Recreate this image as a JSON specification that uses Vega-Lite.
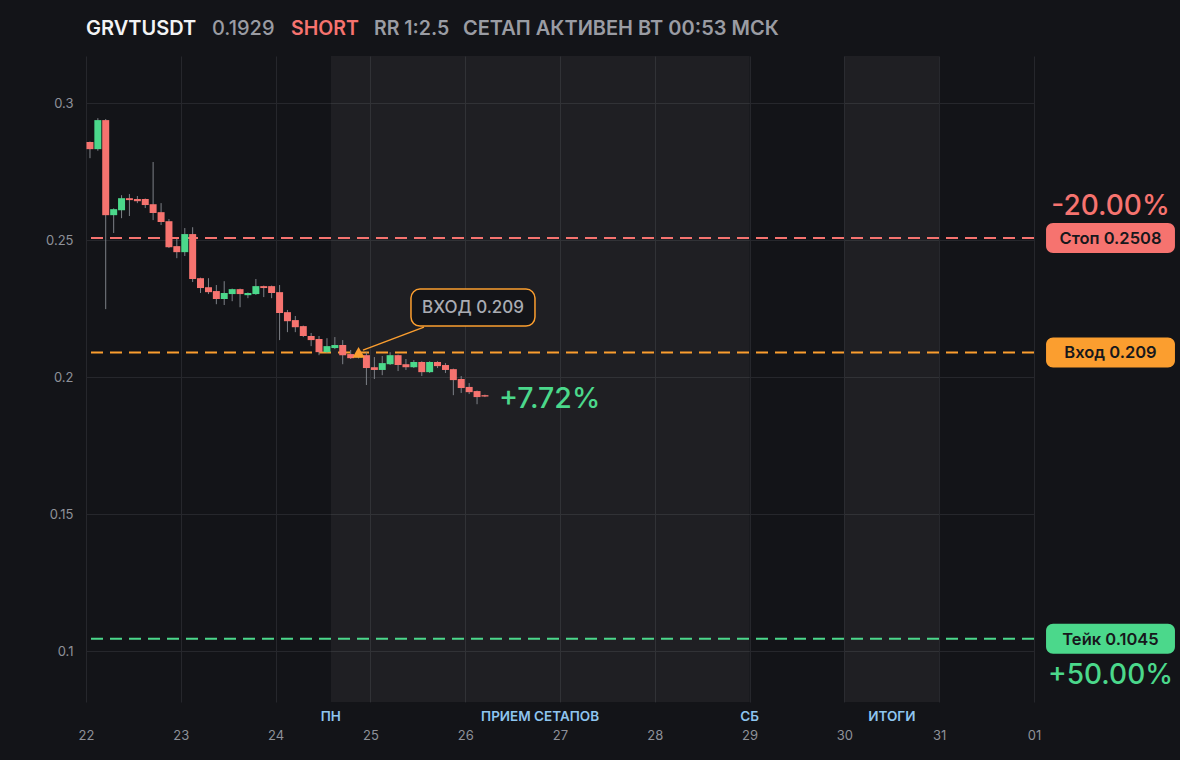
{
  "$schema": "https://vega.github.io/schema/vega-lite/v6.json",
  "width": 948,
  "height": 646,
  "autosize": {"type": "none"},
  "padding": {"left": 86, "top": 56, "right": 146, "bottom": 58},
  "background": "#131418",
  "config": {
    "view": {"stroke": null},
    "font": "Inter",
    "text": {"font": "Inter"}
  },
  "datasets": {
    "candles": [
      {"t": 22.042, "o": 0.2858, "c": 0.2832, "h": 0.2860, "l": 0.2799},
      {"t": 22.125, "o": 0.2832, "c": 0.2938, "h": 0.2945, "l": 0.2826},
      {"t": 22.208, "o": 0.2938, "c": 0.2591, "h": 0.2942, "l": 0.2248},
      {"t": 22.292, "o": 0.2591, "c": 0.2613, "h": 0.2616, "l": 0.2526},
      {"t": 22.375, "o": 0.2609, "c": 0.2653, "h": 0.2664, "l": 0.2580},
      {"t": 22.458, "o": 0.2653, "c": 0.2646, "h": 0.2668, "l": 0.2588},
      {"t": 22.542, "o": 0.2650, "c": 0.2642, "h": 0.2661, "l": 0.2635},
      {"t": 22.625, "o": 0.2650, "c": 0.2628, "h": 0.2652, "l": 0.2617},
      {"t": 22.708, "o": 0.2631, "c": 0.2599, "h": 0.2785, "l": 0.2573},
      {"t": 22.792, "o": 0.2602, "c": 0.2566, "h": 0.2635, "l": 0.2555},
      {"t": 22.875, "o": 0.2569, "c": 0.2474, "h": 0.2577, "l": 0.2471},
      {"t": 22.958, "o": 0.2478, "c": 0.2456, "h": 0.2504, "l": 0.2434},
      {"t": 23.042, "o": 0.2456, "c": 0.2522, "h": 0.2544, "l": 0.2442},
      {"t": 23.125, "o": 0.2522, "c": 0.2358, "h": 0.2547, "l": 0.2347},
      {"t": 23.208, "o": 0.2361, "c": 0.2325, "h": 0.2363, "l": 0.2307},
      {"t": 23.292, "o": 0.2328, "c": 0.2310, "h": 0.2361, "l": 0.2303},
      {"t": 23.375, "o": 0.2314, "c": 0.2285, "h": 0.2336, "l": 0.2266},
      {"t": 23.458, "o": 0.2285, "c": 0.2307, "h": 0.2350, "l": 0.2263},
      {"t": 23.542, "o": 0.2303, "c": 0.2321, "h": 0.2323, "l": 0.2277},
      {"t": 23.625, "o": 0.2321, "c": 0.2303, "h": 0.2323, "l": 0.2255},
      {"t": 23.708, "o": 0.2299, "c": 0.2307, "h": 0.2309, "l": 0.2288},
      {"t": 23.792, "o": 0.2303, "c": 0.2332, "h": 0.2358, "l": 0.2300},
      {"t": 23.875, "o": 0.2332, "c": 0.2325, "h": 0.2334, "l": 0.2292},
      {"t": 23.958, "o": 0.2332, "c": 0.2307, "h": 0.2334, "l": 0.2288},
      {"t": 24.042, "o": 0.2310, "c": 0.2234, "h": 0.2336, "l": 0.2135},
      {"t": 24.125, "o": 0.2237, "c": 0.2204, "h": 0.2245, "l": 0.2164},
      {"t": 24.208, "o": 0.2208, "c": 0.2182, "h": 0.2223, "l": 0.2164},
      {"t": 24.292, "o": 0.2186, "c": 0.2150, "h": 0.2188, "l": 0.2146},
      {"t": 24.375, "o": 0.2150, "c": 0.2135, "h": 0.2161, "l": 0.2113},
      {"t": 24.458, "o": 0.2139, "c": 0.2091, "h": 0.2150, "l": 0.2080},
      {"t": 24.542, "o": 0.2091, "c": 0.2113, "h": 0.2142, "l": 0.2089},
      {"t": 24.625, "o": 0.2106, "c": 0.2117, "h": 0.2146, "l": 0.2102},
      {"t": 24.708, "o": 0.2117, "c": 0.2080, "h": 0.2135, "l": 0.2047},
      {"t": 24.792, "o": 0.2084, "c": 0.2069, "h": 0.2099, "l": 0.2066},
      {"t": 24.875, "o": 0.2072, "c": 0.2080, "h": 0.2085, "l": 0.2068},
      {"t": 24.958, "o": 0.2080, "c": 0.2033, "h": 0.2090, "l": 0.1971},
      {"t": 25.042, "o": 0.2036, "c": 0.2026, "h": 0.2073, "l": 0.1993},
      {"t": 25.125, "o": 0.2026, "c": 0.2051, "h": 0.2077, "l": 0.2007},
      {"t": 25.208, "o": 0.2047, "c": 0.2080, "h": 0.2091, "l": 0.2044},
      {"t": 25.292, "o": 0.2080, "c": 0.2044, "h": 0.2082, "l": 0.2022},
      {"t": 25.375, "o": 0.2047, "c": 0.2036, "h": 0.2066, "l": 0.2026},
      {"t": 25.458, "o": 0.2036, "c": 0.2055, "h": 0.2062, "l": 0.2033},
      {"t": 25.542, "o": 0.2055, "c": 0.2018, "h": 0.2058, "l": 0.2004},
      {"t": 25.625, "o": 0.2018, "c": 0.2055, "h": 0.2058, "l": 0.2015},
      {"t": 25.708, "o": 0.2055, "c": 0.2040, "h": 0.2058, "l": 0.2033},
      {"t": 25.792, "o": 0.2044, "c": 0.2026, "h": 0.2051, "l": 0.2015},
      {"t": 25.875, "o": 0.2029, "c": 0.1989, "h": 0.2031, "l": 0.1934},
      {"t": 25.958, "o": 0.1993, "c": 0.1960, "h": 0.2004, "l": 0.1942},
      {"t": 26.042, "o": 0.1964, "c": 0.1945, "h": 0.1978, "l": 0.1938},
      {"t": 26.125, "o": 0.1949, "c": 0.1927, "h": 0.1951, "l": 0.1901},
      {"t": 26.208, "o": 0.1934, "c": 0.1929, "h": 0.1936, "l": 0.1927}
    ],
    "sessions": [
      {"start": 24.583, "end": 29.0},
      {"start": 30.0, "end": 31.0}
    ],
    "sessionLabels": [
      {"t": 24.583, "label": "ПН"},
      {"t": 26.79, "label": "ПРИЕМ СЕТАПОВ"},
      {"t": 29.0, "label": "СБ"},
      {"t": 30.5, "label": "ИТОГИ"}
    ],
    "levels": [
      {"kind": "stop", "price": 0.2508, "label": "Стоп 0.2508"},
      {"kind": "entry", "price": 0.209, "label": "Вход 0.209"},
      {"kind": "take", "price": 0.1045, "label": "Тейк 0.1045"}
    ],
    "one": [{}]
  },
  "layer": [
    {
      "data": {"name": "sessions"},
      "mark": {"type": "rect", "color": "#ffffff", "opacity": 0.05},
      "encoding": {
        "x": {
          "field": "start", "type": "quantitative",
          "scale": {"domain": [22, 32], "nice": false, "zero": false, "padding": 0},
          "axis": {
            "values": [22, 23, 24, 25, 26, 27, 28, 29, 30, 31, 32],
            "labelExpr": "datum.value == 32 ? '01' : '' + datum.value",
            "title": null, "domain": false, "ticks": false,
            "labelFlush": false, "labelOverlap": false,
            "labelPadding": 27, "labelFontSize": 13, "labelColor": "#8e9199",
            "labelFont": "Inter",
            "grid": true, "gridColor": "#26272c", "gridWidth": 1
          }
        },
        "x2": {"field": "end"}
      }
    },
    {
      "data": {"name": "levels"},
      "mark": {"type": "rule", "strokeWidth": 2, "strokeDash": [12, 7]},
      "encoding": {
        "y": {
          "field": "price", "type": "quantitative",
          "scale": {"domain": [0.0814, 0.3172], "nice": false, "zero": false, "padding": 0},
          "axis": {
            "values": [0.1, 0.15, 0.2, 0.25, 0.3],
            "format": "~g",
            "title": null, "domain": false, "ticks": false,
            "labelPadding": 13, "labelFontSize": 13, "labelColor": "#8e9199",
            "labelFont": "Inter",
            "grid": true, "gridColor": "#26272c", "gridWidth": 1
          }
        },
        "color": {
          "field": "kind", "type": "nominal",
          "scale": {"domain": ["stop", "entry", "take"], "range": ["#f6736f", "#fb9e2f", "#4bd88b"]},
          "legend": null
        }
      }
    },
    {
      "data": {"name": "candles"},
      "mark": {"type": "rule", "color": "#7d8087", "strokeWidth": 1},
      "encoding": {
        "x": {"field": "t", "type": "quantitative"},
        "y": {"field": "l", "type": "quantitative"},
        "y2": {"field": "h"}
      }
    },
    {
      "data": {"name": "candles"},
      "mark": {"type": "bar", "size": 7, "orient": "vertical"},
      "encoding": {
        "x": {"field": "t", "type": "quantitative"},
        "y": {"field": "o", "type": "quantitative"},
        "y2": {"field": "c"},
        "color": {
          "condition": {"test": "datum.c >= datum.o", "value": "#4bd88b"},
          "value": "#f6736f"
        }
      }
    },
    {
      "data": {"name": "one"},
      "mark": {"type": "rule", "color": "#fb9e2f", "strokeWidth": 1.5},
      "encoding": {
        "x": {"datum": 24.922},
        "y": {"datum": 0.20985},
        "x2": {"datum": 25.565},
        "y2": {"datum": 0.21825}
      }
    },
    {
      "data": {"name": "one"},
      "mark": {"type": "point", "shape": "triangle-up", "filled": true, "size": 150, "color": "#fb9e2f", "opacity": 1},
      "encoding": {
        "x": {"datum": 24.875},
        "y": {"datum": 0.209}
      }
    },
    {
      "data": {"name": "one"},
      "mark": {"type": "rect", "fill": "#131418", "stroke": "#fb9e2f", "strokeWidth": 1.5, "cornerRadius": 9},
      "encoding": {
        "x": {"datum": 25.428},
        "x2": {"datum": 26.736},
        "y": {"datum": 0.23212},
        "y2": {"datum": 0.21861}
      }
    },
    {
      "data": {"name": "one"},
      "mark": {"type": "text", "text": "ВХОД 0.209", "fontSize": 17, "fontWeight": 500, "color": "#a9acb3", "align": "center", "baseline": "middle"},
      "encoding": {
        "x": {"datum": 26.082},
        "y": {"datum": 0.22536}
      }
    },
    {
      "data": {"name": "one"},
      "mark": {"type": "text", "text": "+7.72%", "fontSize": 28.5, "fontWeight": 500, "color": "#4bd88b", "align": "left", "baseline": "middle", "dx": 14, "dy": 2},
      "encoding": {
        "x": {"datum": 26.208},
        "y": {"datum": 0.1929}
      }
    },
    {
      "data": {"name": "levels"},
      "mark": {"type": "bar", "orient": "horizontal", "size": 30, "cornerRadius": 7},
      "encoding": {
        "x": {"datum": 32.127},
        "x2": {"datum": 33.487},
        "y": {"field": "price", "type": "quantitative"},
        "color": {"field": "kind", "type": "nominal", "legend": null}
      }
    },
    {
      "data": {"name": "levels"},
      "mark": {"type": "text", "fontSize": 16.5, "fontWeight": 600, "color": "#17181c", "align": "center", "baseline": "middle", "dy": 1},
      "encoding": {
        "x": {"datum": 32.807},
        "y": {"field": "price", "type": "quantitative"},
        "text": {"field": "label"}
      }
    },
    {
      "data": {"name": "one"},
      "mark": {"type": "text", "text": "-20.00%", "fontSize": 28, "fontWeight": 500, "color": "#f6736f", "align": "center", "baseline": "middle", "dy": -31},
      "encoding": {
        "x": {"datum": 32.807},
        "y": {"datum": 0.2508}
      }
    },
    {
      "data": {"name": "one"},
      "mark": {"type": "text", "text": "+50.00%", "fontSize": 28, "fontWeight": 500, "color": "#4bd88b", "align": "center", "baseline": "middle", "dy": 37},
      "encoding": {
        "x": {"datum": 32.807},
        "y": {"datum": 0.1045}
      }
    },
    {
      "data": {"name": "sessionLabels"},
      "mark": {"type": "text", "fontSize": 13.5, "fontWeight": 600, "color": "#8ec5ef", "align": "center", "baseline": "middle"},
      "encoding": {
        "x": {"field": "t", "type": "quantitative"},
        "y": {"datum": 0.07592},
        "text": {"field": "label"}
      }
    },
    {
      "data": {"name": "one"},
      "mark": {"type": "text", "text": "GRVTUSDT", "fontSize": 20, "fontWeight": 600, "color": "#f2f3f5", "align": "left", "baseline": "middle"},
      "encoding": {"x": {"datum": 22.0}, "y": {"datum": 0.32706}}
    },
    {
      "data": {"name": "one"},
      "mark": {"type": "text", "text": "0.1929", "fontSize": 20, "fontWeight": 500, "color": "#9a9ca3", "align": "left", "baseline": "middle"},
      "encoding": {"x": {"datum": 23.329}, "y": {"datum": 0.32706}}
    },
    {
      "data": {"name": "one"},
      "mark": {"type": "text", "text": "SHORT", "fontSize": 19.5, "fontWeight": 600, "color": "#f6736f", "align": "left", "baseline": "middle"},
      "encoding": {"x": {"datum": 24.162}, "y": {"datum": 0.32706}}
    },
    {
      "data": {"name": "one"},
      "mark": {"type": "text", "text": "RR 1:2.5", "fontSize": 19.5, "fontWeight": 600, "color": "#9a9ca3", "align": "left", "baseline": "middle"},
      "encoding": {"x": {"datum": 25.038}, "y": {"datum": 0.32706}}
    },
    {
      "data": {"name": "one"},
      "mark": {"type": "text", "text": "СЕТАП АКТИВЕН ВТ 00:53 МСК", "fontSize": 20, "fontWeight": 600, "color": "#9a9ca3", "align": "left", "baseline": "middle"},
      "encoding": {"x": {"datum": 25.977}, "y": {"datum": 0.32706}}
    }
  ]
}
